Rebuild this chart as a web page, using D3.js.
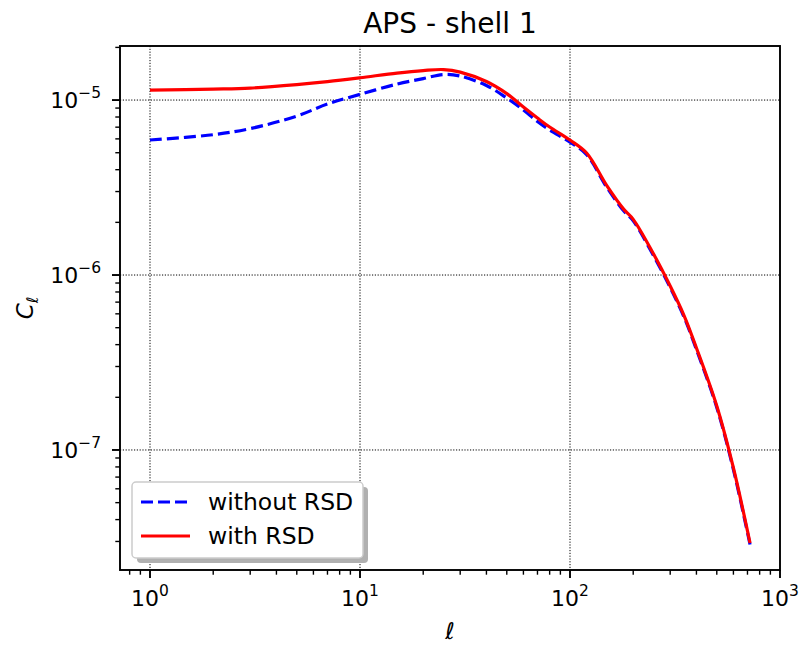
<!DOCTYPE html>
<html>
<head>
<meta charset="utf-8">
<script src="https://cdn.jsdelivr.net/npm/d3@7"></script>
<style>
  body { margin: 0; background: #fff; }
  svg text { font-family: "DejaVu Sans", sans-serif; fill: #000; }
</style>
</head>
<body>
<svg id="chart" width="801" height="646"></svg>
<script>
// ---- data ----
const ell = [1, 2, 3, 5, 7, 10, 15, 20, 25, 30, 40, 50, 60, 70, 80, 100, 120, 150, 180, 200, 250, 300, 350, 400, 500, 600, 720];
const clNoRSD = [5.91e-6, 6.34e-6, 6.87e-6, 8.10e-6, 9.49e-6, 1.078e-5, 1.234e-5, 1.327e-5, 1.399e-5, 1.371e-5, 1.212e-5, 1.027e-5, 8.77e-6, 7.54e-6, 6.74e-6, 5.75e-6, 4.88e-6, 3.16e-6, 2.33e-6, 2.04e-6, 1.29e-6, 8.48e-7, 5.71e-7, 3.75e-7, 1.75e-7, 7.73e-8, 2.88e-8];
const clRSD = [1.141e-5, 1.156e-5, 1.171e-5, 1.226e-5, 1.275e-5, 1.341e-5, 1.427e-5, 1.475e-5, 1.494e-5, 1.445e-5, 1.276e-5, 1.088e-5, 9.12e-6, 7.89e-6, 7.01e-6, 5.91e-6, 4.98e-6, 3.23e-6, 2.38e-6, 2.08e-6, 1.318e-6, 8.65e-7, 5.83e-7, 3.83e-7, 1.784e-7, 7.89e-8, 2.94e-8];
const seriesNames = ["without RSD", "with RSD"];
const xMajorTicks = [1, 10, 100, 1000];
const xTickExps = ["0", "1", "2", "3"];
const yMajorTicks = [1e-7, 1e-6, 1e-5];
const yTickExps = ["\u22127", "\u22126", "\u22125"];
const title = "APS - shell 1";

// ---- layout ----
const L = 120, R = 780, T = 46, B = 570;
const svg = d3.select("#chart");
svg.append("rect").attr("width", 801).attr("height", 646).attr("fill", "#fff");

const x = d3.scaleLog().domain([Math.pow(10, -30/210), 1000]).range([L, R]);
const y = d3.scaleLog().domain([Math.pow(10, -7.686), Math.pow(10, -4.691)]).range([B, T]);

// minor ticks
const xMinor = [];
for (let d = -1; d < 3; d++) for (let m = 2; m <= 9; m++) { const v = m * Math.pow(10, d); if (v >= x.domain()[0] && v <= 1000) xMinor.push(v); }
const yMinor = [];
for (let d = -8; d < -4; d++) for (let m = 2; m <= 9; m++) { const v = m * Math.pow(10, d); if (v >= y.domain()[0] && v <= y.domain()[1]) yMinor.push(v); }

// grid
const grid = svg.append("g");
grid.selectAll(".gx").data(xMajorTicks.filter(v => v < 1000)).join("line")
  .attr("x1", d => x(d)).attr("x2", d => x(d)).attr("y1", T).attr("y2", B)
  .attr("stroke", "#000").attr("stroke-width", 1).attr("stroke-dasharray", "1.2,1.6");
grid.selectAll(".gy").data(yMajorTicks).join("line")
  .attr("y1", d => y(d)).attr("y2", d => y(d)).attr("x1", L).attr("x2", R)
  .attr("stroke", "#000").attr("stroke-width", 1).attr("stroke-dasharray", "1.2,1.6");

// lines
const line = (vals) => d3.line().x((d, i) => x(ell[i])).y(d => y(d)).curve(d3.curveCatmullRom.alpha(0.5))(vals);
svg.append("path").attr("d", line(clNoRSD)).attr("fill", "none").attr("stroke", "#0000ff")
  .attr("stroke-width", 3.2).attr("stroke-dasharray", "12,5");
svg.append("path").attr("d", line(clRSD)).attr("fill", "none").attr("stroke", "#ff0000")
  .attr("stroke-width", 3.2).attr("stroke-linejoin", "round");

// axes ticks
const ax = svg.append("g").attr("stroke", "#000");
ax.selectAll(".xt").data(xMajorTicks).join("line")
  .attr("x1", d => x(d)).attr("x2", d => x(d)).attr("y1", B).attr("y2", B + 8).attr("stroke-width", 1.9);
ax.selectAll(".xm").data(xMinor).join("line")
  .attr("x1", d => x(d)).attr("x2", d => x(d)).attr("y1", B).attr("y2", B + 4.7).attr("stroke-width", 1.4);
ax.selectAll(".yt").data(yMajorTicks).join("line")
  .attr("y1", d => y(d)).attr("y2", d => y(d)).attr("x1", L).attr("x2", L - 8).attr("stroke-width", 1.9);
ax.selectAll(".ym").data(yMinor).join("line")
  .attr("y1", d => y(d)).attr("y2", d => y(d)).attr("x1", L).attr("x2", L - 4.7).attr("stroke-width", 1.4);

// spines
svg.append("rect").attr("x", L).attr("y", T).attr("width", R - L).attr("height", B - T)
  .attr("fill", "none").attr("stroke", "#000").attr("stroke-width", 1.9);

// tick labels
xMajorTicks.forEach((v, i) => {
  const t = svg.append("text").attr("x", x(v)).attr("y", 606).attr("text-anchor", "middle").attr("font-size", 22);
  t.append("tspan").text("10");
  t.append("tspan").attr("dy", -10).attr("font-size", 15.5).text(xTickExps[i]);
});
yMajorTicks.forEach((v, i) => {
  const t = svg.append("text").attr("x", 101).attr("y", y(v) + 8).attr("text-anchor", "end").attr("font-size", 22);
  t.append("tspan").text("10");
  t.append("tspan").attr("dy", -10).attr("font-size", 15.5).text(yTickExps[i]);
});

// title
svg.append("text").attr("x", 450).attr("y", 33).attr("text-anchor", "middle").attr("font-size", 28).text(title);

// axis labels
svg.append("text").attr("x", 450).attr("y", 639).attr("text-anchor", "middle")
  .attr("font-size", 23).attr("font-style", "italic").text("\u2113");
const yl = svg.append("text").attr("transform", "translate(33,308) rotate(-90)")
  .attr("text-anchor", "middle").attr("font-size", 23);
yl.append("tspan").attr("font-style", "italic").text("C");
yl.append("tspan").attr("dy", 5).attr("font-size", 16).attr("font-style", "italic").text("\u2113");

// legend
const lg = svg.append("g");
lg.append("rect").attr("x", 137).attr("y", 487).attr("width", 231).attr("height", 76).attr("rx", 4)
  .attr("fill", "#b0b0b0");
lg.append("rect").attr("x", 132).attr("y", 482).attr("width", 231).attr("height", 76).attr("rx", 4)
  .attr("fill", "#fff").attr("stroke", "#cccccc").attr("stroke-width", 1.5);
const lgColors = ["#0000ff", "#ff0000"];
const lgDash = ["12,5", null];
seriesNames.forEach((name, i) => {
  const yy = 502 + i * 34;
  lg.append("line").attr("x1", 141).attr("x2", 190).attr("y1", yy).attr("y2", yy)
    .attr("stroke", lgColors[i]).attr("stroke-width", 3.2).attr("stroke-dasharray", lgDash[i]);
  lg.append("text").attr("x", 208).attr("y", yy + 8).attr("font-size", 23.5).text(name);
});
</script>
</body>
</html>
